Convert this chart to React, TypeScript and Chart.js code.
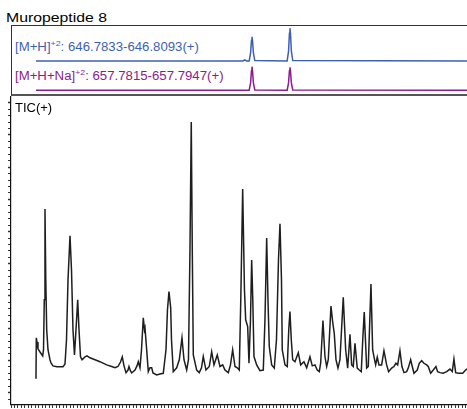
import React, { useEffect, useRef } from "react";
import { Chart, registerables } from "chart.js";
Chart.register(...registerables);

const TITLE = "Muropeptide 8";
const MH_LABEL = "[M+H]";
const MH_RANGE = ": 646.7833-646.8093(+)";
const MHNA_LABEL = "[M+H+Na]";
const MHNA_RANGE = ": 657.7815-657.7947(+)";
const CHARGE = "+2";
const TIC_LABEL = "TIC(+)";

const X_MIN = 0;
const X_MAX = 130.3;
const Y_MIN = -0.37;
const Y_MAX = 9.18;

// [M+H]+2 extracted ion trace
const mhTime = [7.14, 66.3, 66.8, 67.3, 68.06, 68.46, 68.71, 68.86, 69.01, 69.26, 69.66, 78.91, 79.31, 79.56, 79.71, 79.86, 80.11, 80.51, 130.3];
const mhIntensity = [0.03, 0.03, 0.06, 0.03, 0.03, 0.25, 0.6, 0.7, 0.6, 0.25, 0.04, 0.03, 0.3, 0.8, 0.94, 0.8, 0.3, 0.04, 0.03];

// [M+H+Na]+2 extracted ion trace
const mhnaTime = [7.14, 68.06, 68.46, 68.71, 68.86, 69.01, 69.26, 69.66, 78.91, 79.31, 79.56, 79.71, 79.86, 80.11, 80.51, 130.3];
const mhnaIntensity = [0.03, 0.03, 0.3, 0.75, 0.9, 0.75, 0.3, 0.04, 0.03, 0.3, 0.75, 0.88, 0.75, 0.3, 0.04, 0.03];

// Total ion chromatogram
const ticTime = [
  7.14, 7.23, 7.43, 7.71, 8.29, 9.06, 9.29, 9.51, 9.71, 9.94, 10.2, 10.57, 11.14, 11.43, 12.0, 13.14, 14.29, 14.86, 15.43, 15.86,
  16.29, 16.86, 17.29, 17.71, 18.14, 18.57, 19.06, 19.43, 19.86, 20.29, 21.14, 21.71, 22.57, 24.0, 25.43, 27.34, 28.77, 29.71, 30.57, 31.29,
  31.8, 32.29, 32.86, 33.43, 33.71, 34.14, 34.49, 35.43, 36.0, 36.37, 36.86, 37.29, 37.8, 38.14, 38.29, 38.77, 39.23, 39.71, 40.2, 40.57,
  41.63, 42.57, 43.51, 44.29, 44.71, 45.14, 45.63, 45.86, 46.37, 47.34, 48.09, 48.86, 49.43, 50.2, 50.71, 51.14, 51.51, 51.8, 52.09, 53.06,
  53.8, 54.43, 54.94, 55.71, 56.66, 57.34, 58.0, 58.94, 59.71, 60.49, 61.14, 62.09, 62.71, 63.34, 64.0, 64.66, 65.23, 65.66, 66.2, 66.71,
  67.06, 67.63, 68.0, 68.43, 68.77, 69.09, 69.43, 70.2, 71.14, 72.09, 72.57, 73.06, 73.43, 73.8, 74.49, 75.23, 75.86, 76.43, 76.86, 77.29,
  77.51, 78.29, 78.94, 79.37, 79.71, 80.09, 80.49, 81.14, 82.09, 82.77, 83.71, 84.49, 85.43, 86.09, 86.86, 87.51, 88.09, 88.49, 89.14, 89.71,
  90.2, 90.66, 91.43, 91.91, 92.37, 92.86, 93.43, 94.0, 94.94, 95.63, 96.2, 96.86, 97.34, 97.8, 98.29, 98.94, 99.51, 100.09, 100.51, 100.94,
  101.63, 102.09, 102.86, 103.34, 103.71, 104.2, 104.66, 105.14, 105.91, 106.57, 107.34, 107.91, 108.77, 109.43, 110.0, 110.49, 111.14, 111.71, 112.29, 113.06,
  113.51, 114.2, 114.66, 115.14, 116.09, 116.66, 117.34, 118.0, 118.77, 119.23, 119.91, 120.66, 121.43, 121.91, 122.57, 123.51, 124.49, 125.43, 126.09, 126.57,
  127.06, 127.8, 129.06, 129.91, 130.29
];
const ticIntensity = [
  0.43, 1.70, 1.57, 1.36, 1.26, 1.14, 1.33, 2.88, 5.70, 3.50, 1.95, 1.33, 1.02, 0.92, 0.83, 0.80, 0.80, 0.80, 0.89, 1.64,
  3.50, 4.87, 3.81, 1.95, 1.17, 1.95, 2.88, 1.95, 1.11, 1.02, 1.11, 1.14, 1.08, 1.02, 0.96, 0.86, 0.81, 0.77, 0.81, 0.95,
  1.11, 0.83, 0.62, 0.70, 0.81, 0.67, 0.61, 0.70, 0.83, 0.96, 0.77, 1.33, 2.32, 1.95, 2.01, 1.33, 0.65, 0.77, 0.77, 0.61,
  0.55, 0.58, 0.60, 1.33, 2.57, 3.14, 2.63, 1.64, 0.65, 0.77, 1.02, 1.70, 1.02, 0.70, 1.02, 4.43, 8.40, 4.43, 1.17, 0.70,
  0.62, 0.77, 1.12, 0.70, 0.81, 1.27, 0.86, 1.17, 0.81, 0.86, 0.70, 0.62, 0.86, 1.33, 0.81, 0.77, 0.70, 2.88, 6.32, 3.19,
  2.26, 2.05, 0.91, 2.26, 4.12, 2.88, 1.12, 0.86, 0.68, 0.70, 2.26, 4.80, 2.88, 1.43, 0.86, 0.76, 1.64, 4.12, 5.24, 3.50,
  1.33, 0.86, 0.81, 1.95, 2.52, 1.64, 1.02, 0.96, 1.24, 0.86, 0.96, 0.77, 1.11, 0.83, 0.86, 0.70, 0.65, 0.92, 2.24, 1.12,
  0.81, 1.02, 2.69, 2.20, 1.84, 1.02, 0.76, 1.02, 2.96, 1.33, 0.76, 1.81, 0.86, 0.81, 1.53, 0.76, 0.70, 0.65, 1.64, 2.50,
  0.76, 0.81, 3.37, 1.33, 1.12, 0.86, 1.10, 0.86, 0.86, 1.30, 0.86, 0.65, 0.76, 0.81, 0.91, 0.86, 1.30, 0.81, 0.62, 0.65,
  0.76, 1.02, 0.81, 0.60, 0.70, 0.91, 0.99, 0.91, 0.86, 0.81, 0.60, 0.70, 0.81, 0.65, 0.62, 0.60, 0.65, 0.73, 0.65, 1.04,
  0.62, 0.60, 0.60, 0.70, 0.74
];

const FONT = '"Liberation Sans", Arial, Helvetica, sans-serif';
const BLUE = "#3f5fb2";
const PURPLE = "#8a1c8c";

function pts(xs: number[], ys: number[]) {
  return xs.map((x, i) => ({ x, y: ys[i] }));
}

function traceConfig(xs: number[], ys: number[], color: string, width: number): any {
  return {
    type: "line",
    data: {
      datasets: [
        {
          data: pts(xs, ys),
          borderColor: color,
          borderWidth: width,
          pointRadius: 0,
          tension: 0,
          fill: false,
          clip: false,
        },
      ],
    },
    options: {
      animation: false,
      responsive: false,
      maintainAspectRatio: false,
      layout: { padding: 0 },
      plugins: { legend: { display: false }, tooltip: { enabled: false }, title: { display: false } },
      scales: {
        x: { type: "linear", min: X_MIN, max: X_MAX, display: false },
        y: { type: "linear", min: 0, max: 1, display: false },
      },
    },
  };
}

function ticConfig(): any {
  return {
    type: "line",
    data: {
      datasets: [
        {
          data: pts(ticTime, ticIntensity),
          borderColor: "#1e1e1e",
          borderWidth: 1.5,
          pointRadius: 0,
          tension: 0,
          fill: false,
          clip: false,
        },
      ],
    },
    options: {
      animation: false,
      responsive: false,
      maintainAspectRatio: false,
      layout: { padding: { top: 1, left: 0, right: 0, bottom: 0 } },
      plugins: { legend: { display: false }, tooltip: { enabled: false }, title: { display: false } },
      scales: {
        x: {
          type: "linear",
          min: X_MIN,
          max: X_MAX,
          ticks: { display: false, stepSize: 1, includeBounds: false, autoSkip: false },
          grid: { drawOnChartArea: false, drawTicks: true, tickLength: 3.5, tickColor: "#333", tickWidth: 1 },
          border: { display: true, color: "#111", width: 1.2 },
          afterFit: (s: any) => {
            s.height = 4.5;
          },
        },
        y: {
          type: "linear",
          min: Y_MIN,
          max: Y_MAX,
          ticks: { display: false, stepSize: 0.2, includeBounds: false, autoSkip: false },
          grid: {
            drawOnChartArea: false,
            drawTicks: true,
            tickLength: 3,
            tickColor: "#333",
            tickWidth: (ctx: any) =>
              ctx.tick && Math.abs(ctx.tick.value - Math.round(ctx.tick.value)) < 1e-6 ? 1.5 : 1,
          },
          border: { display: true, color: "#111", width: 1.2 },
          afterFit: (s: any) => {
            s.width = 11;
          },
        },
      },
    },
  };
}

function ChartCanvas(props: { make: () => any; left: number; top: number; width: number; height: number }) {
  const ref = useRef<HTMLCanvasElement | null>(null);
  useEffect(() => {
    if (!ref.current) return;
    const c = new Chart(ref.current, props.make());
    return () => c.destroy();
  }, []);
  return (
    <canvas
      ref={ref}
      width={props.width}
      height={props.height}
      style={{ position: "absolute", left: props.left, top: props.top, width: props.width, height: props.height, display: "block" }}
    />
  );
}

function Label(props: { main: string; rest: string; color: string; top: number }) {
  return (
    <div
      style={{
        position: "absolute",
        left: 15,
        top: props.top,
        fontFamily: FONT,
        fontSize: 12,
        lineHeight: "14px",
        color: props.color,
        whiteSpace: "nowrap",
        transform: "scaleX(1.1)",
        transformOrigin: "left top",
      }}
    >
      {props.main}
      <span style={{ fontSize: 8, position: "relative", top: -5 }}>{CHARGE}</span>
      {props.rest}
    </div>
  );
}

export default function App() {
  useEffect(() => {
    document.body.style.overflow = "hidden";
    document.documentElement.style.overflow = "hidden";
  }, []);
  return (
    <div style={{ position: "absolute", left: 0, top: 0, width: 467, height: 409, background: "#fff", overflow: "hidden" }}>
      <div
        style={{
          position: "absolute",
          left: 6,
          top: 10,
          fontFamily: FONT,
          fontSize: 13.5,
          lineHeight: "15px",
          color: "#000",
          whiteSpace: "nowrap",
          transform: "scaleX(1.17)",
          transformOrigin: "left top",
        }}
      >
        {TITLE}
      </div>
      <div
        style={{
          position: "absolute",
          left: 11,
          top: 25,
          width: 455,
          height: 68,
          borderTop: "1px solid #333",
          borderLeft: "1px solid #333",
          borderBottom: "2px solid #555",
        }}
      />
      <Label main={MH_LABEL} rest={MH_RANGE} color={BLUE} top={40} />
      <Label main={MHNA_LABEL} rest={MHNA_RANGE} color={PURPLE} top={69} />
      <ChartCanvas make={() => traceConfig(mhTime, mhIntensity, BLUE, 1.5)} left={11} top={26} width={456} height={36} />
      <ChartCanvas make={() => traceConfig(mhnaTime, mhnaIntensity, PURPLE, 1.5)} left={11} top={64} width={456} height={27} />
      <ChartCanvas make={ticConfig} left={0} top={96} width={467} height={313} />
      <div
        style={{
          position: "absolute",
          left: 15,
          top: 100,
          fontFamily: FONT,
          fontSize: 13,
          lineHeight: "15px",
          color: "#000",
          whiteSpace: "nowrap",
        }}
      >
        {TIC_LABEL}
      </div>
    </div>
  );
}
